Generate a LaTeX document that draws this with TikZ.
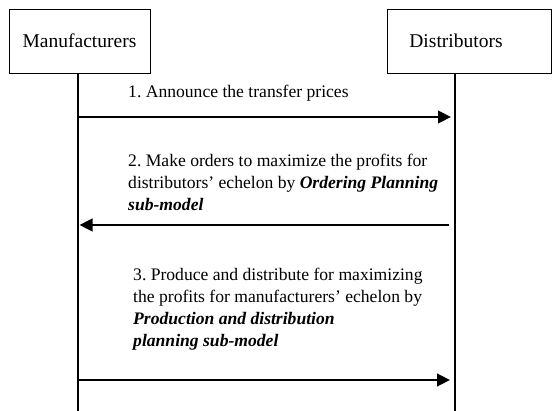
\documentclass[tikz,border=0pt]{standalone}
\usepackage{fontspec}
\setmainfont{Liberation Serif}
\usetikzlibrary{arrows.meta}
\frenchspacing

\begin{document}
\begin{tikzpicture}[x=1pt,y=-1pt,
        actor/.style={draw,line width=0.9pt,minimum height=64pt,inner sep=0pt,font=\fontsize{19.5}{23}\selectfont},
        lifeline/.style={line width=2.9pt},
        msg/.style={line width=2.6pt,-{Triangle[length=13pt,width=12.5pt]}},
        msgtext/.style={inner sep=0pt,align=left,font=\fontsize{17.6}{22}\selectfont}]
        \useasboundingbox (0,0) rectangle (552,411);
        % the two parties
        \node[actor,minimum width=141pt] (man) at (79.5,41) {Manufacturers};
        \node[actor,minimum width=164pt] (dist) at (469,41) {Distributors\hspace*{26pt}};
        % lifelines
        \coordinate (mtop) at (78,73.4);
        \coordinate (mbot) at (78,411);
        \coordinate (dtop) at (455,73.4);
        \coordinate (dbot) at (455,411);
        \draw[lifeline] (mtop) -- (mbot);
        \draw[lifeline] (dtop) -- (dbot);
        % messages
        \coordinate (m1a) at (78,117);
        \coordinate (m1b) at (451,117);
        \coordinate (m2a) at (449,225);
        \coordinate (m2b) at (79.5,225);
        \coordinate (m3a) at (78,380);
        \coordinate (m3b) at (450,380);
        \draw[msg] (m1a) -- (m1b);
        \draw[msg] (m2a) -- (m2b);
        \draw[msg] (m3a) -- (m3b);
        \node[msgtext,anchor=base west] (t1) at (128,98) {1. Announce the transfer prices};
        \node[msgtext,anchor=north west] (t2) at (128,154) {2. Make orders to maximize the profits for\\
            distributors' echelon by \textbf{\textit{Ordering Planning}}\\
            \textbf{\textit{sub-model}}};
        \node[msgtext,anchor=north west] (t3) at (133,268) {3. Produce and distribute for maximizing\\
            the profits for manufacturers' echelon by\\
            \textbf{\textit{Production and distribution}}\\
            \textbf{\textit{planning sub-model}}};
    \end{tikzpicture}
\end{document}
